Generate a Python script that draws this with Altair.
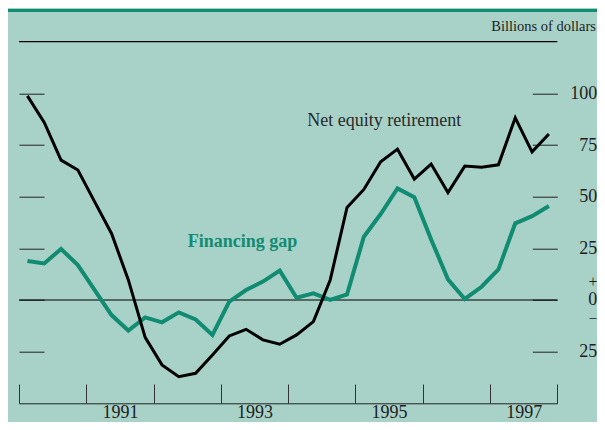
import altair as alt
import pandas as pd

# ---- data (quarterly, 1990Q1 .. 1997Q4), billions of dollars ----
years = [1990, 1991, 1992, 1993, 1994, 1995, 1996, 1997]
quarters = [f"{y}Q{q}" for y in years for q in range(1, 5)]
net_equity_retirement = [98.8, 85.9, 67.7, 62.9, 47.5, 32.2, 9.7, -18.1,
                         -31.4, -37.1, -35.5, -26.6, -17.4, -14.2, -19.3, -21.4,
                         -16.9, -10.5, 9.7, 44.8, 53.5, 66.9, 73.0, 58.5,
                         65.8, 52.0, 64.8, 64.2, 65.4, 88.2, 71.7, 80.3]
financing_gap = [18.9, 17.7, 24.7, 16.9, 4.8, -7.3, -14.8, -8.4,
                 -10.8, -6.0, -9.4, -16.9, -0.8, 4.8, 8.9, 14.2,
                 1.1, 3.2, 0.0, 2.7, 30.6, 41.6, 54.0, 49.7,
                 29.3, 10.0, 0.5, 6.4, 14.8, 37.1, 40.6, 45.5]
y_ticks = [-25, 0, 25, 50, 75, 100]
x_ticks = [1990, 1991, 1992, 1993, 1994, 1995, 1996, 1997, 1998]
year_labels = [1991, 1993, 1995, 1997]
sign_marks = ["+", "\u2013"]
sign_values = [8.5, -8.8]

BG = "#a8d2c8"
GREEN = "#118c72"
INK = "#1e1e1e"
FONT = "Liberation Serif"

# quarter midpoints in decimal years
t = [int(q[:4]) + (int(q[-1]) - 0.5) / 4 for q in quarters]
df = pd.DataFrame({"t": t, "q": quarters, "net": net_equity_retirement, "gap": financing_gap})

xscale = alt.Scale(domain=[1990, 1998], nice=False, zero=False)
yscale = alt.Scale(domain=[-50, 125], nice=False, zero=False)

W, H = 538.3, 361.6

ax_x_ticks = alt.Axis(orient="bottom", offset=-19.3, tickSize=19.3, values=x_ticks,
                      labels=False, domain=False, grid=False, title=None,
                      tickColor="#333333", tickWidth=1)
ax_x_labels = alt.Axis(orient="bottom", offset=0, values=[y + 0.5 for y in year_labels],
                       ticks=False, tickSize=0, domain=True, domainColor="#222222",
                       domainWidth=1, grid=False, title=None,
                       labelExpr="floor(datum.value)", labelFont=FONT, labelFontSize=18,
                       labelColor=INK, labelBaseline="alphabetic", labelPadding=14.5,
                       labelFlush=False, labelOverlap=False)
ax_y_right = alt.Axis(orient="right", offset=-25, tickSize=25, values=y_ticks,
                      domain=False, grid=False, title=None, tickColor="#222222",
                      tickWidth=1,
                      labelExpr="format(abs(datum.value), 'd')",
                      labelFont=FONT, labelFontSize=18, labelColor=INK,
                      labelAlign="right", labelBaseline="middle", labelPadding=39.5,
                      labelOverlap=False, labelFlush=False)
ax_y_left = alt.Axis(orient="left", offset=-25, tickSize=25, values=y_ticks,
                     labels=False, domain=False, grid=False, title=None,
                     tickColor="#222222", tickWidth=1)

rules_df = pd.DataFrame({"y": [0, 125], "x0": [1990, 1990], "x1": [1998, 1998]})
rules = alt.Chart(rules_df).mark_rule(color="black", strokeWidth=1.2).encode(
    x=alt.X("x0:Q", scale=xscale, axis=None),
    x2="x1:Q",
    y=alt.Y("y:Q", scale=yscale, axis=None),
)

green = alt.Chart(df).mark_line(color=GREEN, strokeWidth=4, strokeJoin="miter").encode(
    x=alt.X("t:Q", scale=xscale, axis=ax_x_labels),
    y=alt.Y("gap:Q", scale=yscale, axis=ax_y_left),
    order="t:Q",
)

black = alt.Chart(df).mark_line(color="black", strokeWidth=3, strokeJoin="miter").encode(
    x=alt.X("t:Q", scale=xscale, axis=ax_x_ticks),
    y=alt.Y("net:Q", scale=yscale, axis=ax_y_right),
    order="t:Q",
)

# the small "+" and "-" signs above and below the zero label
sign_df = pd.DataFrame({"s": sign_marks, "v": sign_values, "x": [1998.53, 1998.53]})
plus = alt.Chart(sign_df.iloc[[0]]).mark_text(
    align="center", baseline="middle", font=FONT, fontSize=16, color=INK
).encode(
    x=alt.X("x:Q", scale=xscale, axis=None),
    y=alt.Y("v:Q", scale=yscale, axis=None),
    text="s:N",
)
minus = alt.Chart(sign_df.iloc[[1]]).mark_text(
    align="center", baseline="middle", font=FONT, fontSize=14, color=INK
).encode(
    x=alt.X("x:Q", scale=xscale, axis=None),
    y=alt.Y("v:Q", scale=yscale, axis=None),
    text="s:N",
)

ann_df = pd.DataFrame({
    "x": [1994.284, 1992.507],
    "y": [84.35, 25.8],
    "label": ["Net equity retirement", "Financing gap"],
})
ann_net = alt.Chart(ann_df.iloc[[0]]).mark_text(
    align="left", baseline="alphabetic", font=FONT, fontSize=18, color="#2a2a2a"
).encode(
    x=alt.X("x:Q", scale=xscale, axis=None),
    y=alt.Y("y:Q", scale=yscale, axis=None),
    text="label:N",
)
ann_gap = alt.Chart(ann_df.iloc[[1]]).mark_text(
    align="left", baseline="alphabetic", font=FONT, fontSize=18, fontWeight="bold", color=GREEN
).encode(
    x=alt.X("x:Q", scale=xscale, axis=None),
    y=alt.Y("y:Q", scale=yscale, axis=None),
    text="label:N",
)

units = alt.Chart(pd.DataFrame({"label": ["Billions of dollars"]})).mark_text(
    align="right", baseline="alphabetic", font=FONT, fontSize=14.5, color=INK
).encode(
    x=alt.value(577),
    y=alt.value(-11),
    text="label:N",
)

border = alt.Chart(pd.DataFrame({"k": [0]})).mark_rule(color=GREEN, strokeWidth=3).encode(
    x=alt.value(-11),
    x2=alt.value(590),
    y=alt.value(-31.2),
)

chart = alt.layer(rules, green, black, plus, minus, ann_net, ann_gap, units, border).resolve_axis(
    x="independent", y="independent"
).properties(
    width=W,
    height=H,
    padding={"left": 11, "top": 33.7, "right": 39.7, "bottom": 18.7},
    autosize=alt.AutoSizeParams(type="none"),
    background=BG,
).configure_view(stroke=None)

chart.save("out.html", embed_options={"renderer": "svg", "actions": False})
